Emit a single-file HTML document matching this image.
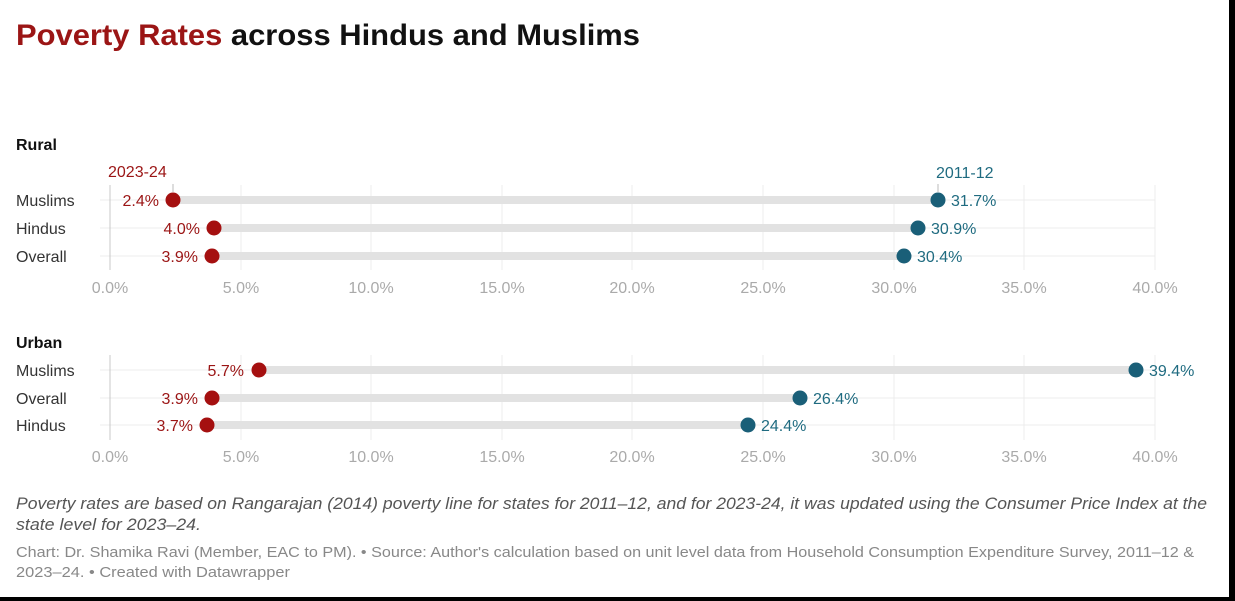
<!DOCTYPE html>
<html><head><meta charset="utf-8"><style>
body{margin:0;background:#000;}
#c{position:absolute;left:0;top:0;width:1229px;height:597px;background:#fff;overflow:hidden}
svg{position:absolute;left:0;top:0}
text{font-family:"Liberation Sans",Arial,sans-serif}
</style></head><body><div id="c">
<svg width="1229" height="597" viewBox="0 0 1229 597">
<text x="16" y="45" font-size="30" font-weight="bold" fill="#111" textLength="624" lengthAdjust="spacingAndGlyphs"><tspan fill="#9b1515">Poverty Rates</tspan> across Hindus and Muslims</text>
<text x="16" y="150" font-size="16" font-weight="bold" fill="#111">Rural</text>
<text x="16" y="348" font-size="16" font-weight="bold" fill="#111">Urban</text>
<g stroke="#ececec" stroke-width="1">
<line x1="241" y1="185" x2="241" y2="270"/><line x1="371" y1="185" x2="371" y2="270"/><line x1="502" y1="185" x2="502" y2="270"/><line x1="632" y1="185" x2="632" y2="270"/><line x1="763" y1="185" x2="763" y2="270"/><line x1="894" y1="185" x2="894" y2="270"/><line x1="1024" y1="185" x2="1024" y2="270"/><line x1="1155" y1="185" x2="1155" y2="270"/>
<line x1="241" y1="355" x2="241" y2="440"/><line x1="371" y1="355" x2="371" y2="440"/><line x1="502" y1="355" x2="502" y2="440"/><line x1="632" y1="355" x2="632" y2="440"/><line x1="763" y1="355" x2="763" y2="440"/><line x1="894" y1="355" x2="894" y2="440"/><line x1="1024" y1="355" x2="1024" y2="440"/><line x1="1155" y1="355" x2="1155" y2="440"/>
<line x1="100" y1="200" x2="1155" y2="200"/><line x1="100" y1="228" x2="1155" y2="228"/><line x1="100" y1="256" x2="1155" y2="256"/>
<line x1="100" y1="370" x2="1155" y2="370"/><line x1="100" y1="398" x2="1155" y2="398"/><line x1="100" y1="425" x2="1155" y2="425"/>
</g>
<line x1="110" y1="185" x2="110" y2="270" stroke="#c8c8c8"/>
<line x1="110" y1="355" x2="110" y2="440" stroke="#c8c8c8"/>
<g stroke="#e2e2e2" stroke-width="8">
<line x1="173" y1="200" x2="938" y2="200"/><line x1="214" y1="228" x2="918" y2="228"/><line x1="212" y1="256" x2="904" y2="256"/>
<line x1="259" y1="370" x2="1136" y2="370"/><line x1="212" y1="398" x2="800" y2="398"/><line x1="207" y1="425" x2="748" y2="425"/>
</g>
<line x1="173" y1="184" x2="173" y2="192" stroke="#bbb"/>
<line x1="938" y1="184" x2="938" y2="192" stroke="#bbb"/>
<text x="108" y="177" font-size="16" fill="#9b1515">2023-24</text>
<text x="936" y="178" font-size="16" fill="#1f6b80">2011-12</text>
<g font-size="16" fill="#333">
<text x="16" y="206">Muslims</text><text x="16" y="234">Hindus</text><text x="16" y="262">Overall</text>
<text x="16" y="376">Muslims</text><text x="16" y="404">Overall</text><text x="16" y="431">Hindus</text>
</g>
<g fill="#a51010">
<circle cx="173" cy="200" r="7.5"/><circle cx="214" cy="228" r="7.5"/><circle cx="212" cy="256" r="7.5"/>
<circle cx="259" cy="370" r="7.5"/><circle cx="212" cy="398" r="7.5"/><circle cx="207" cy="425" r="7.5"/>
</g>
<g fill="#1a5f78">
<circle cx="938" cy="200" r="7.5"/><circle cx="918" cy="228" r="7.5"/><circle cx="904" cy="256" r="7.5"/>
<circle cx="1136" cy="370" r="7.5"/><circle cx="800" cy="398" r="7.5"/><circle cx="748" cy="425" r="7.5"/>
</g>
<g font-size="16" fill="#9b1515" text-anchor="end">
<text x="159" y="206">2.4%</text><text x="200" y="234">4.0%</text><text x="198" y="262">3.9%</text>
<text x="244" y="376">5.7%</text><text x="198" y="404">3.9%</text><text x="193" y="431">3.7%</text>
</g>
<g font-size="16" fill="#1f6b80">
<text x="951" y="206">31.7%</text><text x="931" y="234">30.9%</text><text x="917" y="262">30.4%</text>
<text x="1149" y="376">39.4%</text><text x="813" y="404">26.4%</text><text x="761" y="431">24.4%</text>
</g>
<g font-size="16" fill="#aaa" text-anchor="middle">
<text x="110" y="293">0.0%</text><text x="241" y="293">5.0%</text><text x="371" y="293">10.0%</text><text x="502" y="293">15.0%</text><text x="632" y="293">20.0%</text><text x="763" y="293">25.0%</text><text x="894" y="293">30.0%</text><text x="1024" y="293">35.0%</text><text x="1155" y="293">40.0%</text>
<text x="110" y="462">0.0%</text><text x="241" y="462">5.0%</text><text x="371" y="462">10.0%</text><text x="502" y="462">15.0%</text><text x="632" y="462">20.0%</text><text x="763" y="462">25.0%</text><text x="894" y="462">30.0%</text><text x="1024" y="462">35.0%</text><text x="1155" y="462">40.0%</text>
</g>
<g font-size="17" font-style="italic" fill="#555">
<text x="16" y="509" textLength="1191" lengthAdjust="spacingAndGlyphs">Poverty rates are based on Rangarajan (2014) poverty line for states for 2011–12, and for 2023-24, it was updated using the Consumer Price Index at the</text>
<text x="16" y="530" textLength="185" lengthAdjust="spacingAndGlyphs">state level for 2023–24.</text>
</g>
<g font-size="15" fill="#888">
<text x="16" y="557" textLength="1178" lengthAdjust="spacingAndGlyphs">Chart: Dr. Shamika Ravi (Member, EAC to PM). • Source: Author's calculation based on unit level data from Household Consumption Expenditure Survey, 2011–12 &amp;</text>
<text x="16" y="577" textLength="274" lengthAdjust="spacingAndGlyphs">2023–24. • Created with Datawrapper</text>
</g>
</svg></div></body></html>
